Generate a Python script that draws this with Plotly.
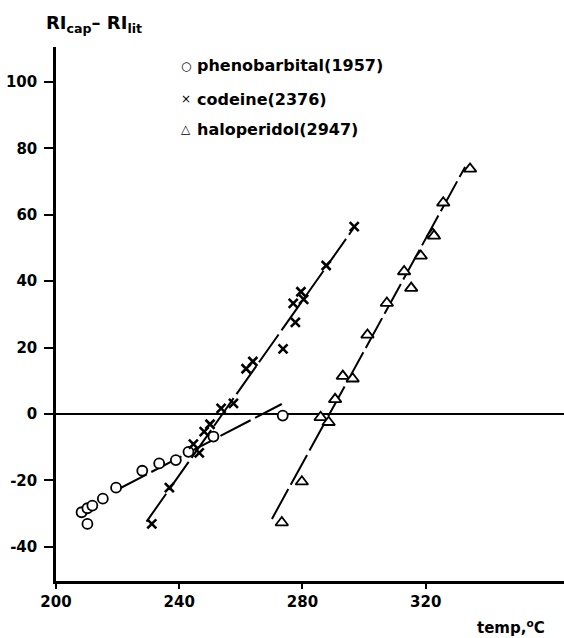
import plotly.graph_objects as go

# --- measured points: temperature (°C) vs RI_cap - RI_lit ---
pheno_temp = [208.3, 210.2, 211.8, 215.2, 219.5, 228.0, 233.5, 238.9, 243.0, 251.1, 210.2, 273.6]
pheno_dri = [-29.6, -28.4, -27.6, -25.5, -22.2, -17.1, -14.9, -13.9, -11.4, -6.8, -33.1, -0.5]

codeine_temp = [231.1, 236.8, 244.6, 246.5, 248.1, 250.0, 253.6, 257.6, 261.7, 263.9,
                273.7, 277.7, 277.0, 279.5, 280.4, 287.7, 296.8]
codeine_dri = [-33.1, -22.2, -9.1, -11.7, -5.3, -3.1, 1.7, 3.2, 13.6, 15.8,
               19.6, 27.6, 33.3, 36.8, 34.5, 44.7, 56.4]

halo_temp = [273.3, 279.8, 285.9, 288.5, 290.6, 293.1, 296.3, 301.1, 307.4, 315.3,
             313.0, 318.4, 322.3, 322.7, 325.7, 334.4]
halo_dri = [-32.7, -20.4, -1.0, -2.5, 4.4, 11.4, 10.6, 23.8, 33.4, 37.9,
            42.9, 47.6, 54.2, 53.6, 63.6, 73.8]

# --- hand-fitted trend lines (end points) ---
pheno_fit_temp = [219.7, 273.3]
pheno_fit_dri = [-22.9, 3.0]
codeine_fit_temp = [229.4, 297.1]
codeine_fit_dri = [-32.4, 56.6]
halo_fit_temp = [270.1, 332.8]
halo_fit_dri = [-31.6, 74.4]

legend_labels = ["phenobarbital(1957)", "codeine(2376)", "haloperidol(2947)"]
legend_glyphs = ["\u25CB", "\u00D7", "\u25B3"]

x_ticks = [200, 240, 280, 320]
y_ticks = [-40, -20, 0, 20, 40, 60, 80, 100]

FONT = "DejaVu Sans"
W, H = 564, 638
ML, MR, MT, MB = 56, 0, 47, 57
PW, PH = W - ML - MR, H - MT - MB


def px_x(px):
    return (px - ML) / PW


def px_y(py):
    return (H - MB - py) / PH


fig = go.Figure()

line_style = dict(color="black", width=2, dash="34px,5px")
for tx, ty in [(pheno_fit_temp, pheno_fit_dri),
               (codeine_fit_temp, codeine_fit_dri),
               (halo_fit_temp, halo_fit_dri)]:
    fig.add_trace(go.Scatter(x=tx, y=ty, mode="lines", line=line_style,
                             showlegend=False, hoverinfo="skip"))

fig.add_trace(go.Scatter(
    x=pheno_temp, y=pheno_dri, mode="markers", name=legend_labels[0],
    marker=dict(symbol="circle", size=10, color="white",
                line=dict(color="black", width=1.8))))
fig.add_trace(go.Scatter(
    x=codeine_temp, y=codeine_dri, mode="markers", name=legend_labels[1],
    marker=dict(symbol="x-thin", size=9, color="black",
                line=dict(color="black", width=2.6))))
fig.add_trace(go.Scatter(
    x=halo_temp, y=halo_dri, mode="markers", name=legend_labels[2],
    marker=dict(symbol="triangle-up", size=11, color="white",
                line=dict(color="black", width=1.8))))

annotations = []
# key entries
legend_rows = [66, 99, 129]
for glyph, label, row in zip(legend_glyphs, legend_labels, legend_rows):
    annotations.append(dict(text=glyph, x=px_x(186), y=px_y(row), xref="paper", yref="paper",
                            xanchor="center", yanchor="middle", showarrow=False,
                            font=dict(family=FONT, size=12, color="black")))
    annotations.append(dict(text="<b>" + label + "</b>", x=px_x(195), y=px_y(row),
                            xref="paper", yref="paper", xanchor="left", yanchor="middle",
                            showarrow=False, font=dict(family=FONT, size=16, color="black")))

# axis titles
annotations.append(dict(text="<b>RI<sub>cap</sub>\u2013 RI<sub>lit</sub></b>",
                        x=px_x(44), y=px_y(24), xref="paper", yref="paper",
                        xanchor="left", yanchor="middle", showarrow=False,
                        font=dict(family=FONT, size=18, color="black")))
annotations.append(dict(text="<b>temp,<sup>o</sup>C</b>",
                        x=px_x(547), y=px_y(627), xref="paper", yref="paper",
                        xanchor="right", yanchor="middle", showarrow=False,
                        font=dict(family=FONT, size=15, color="black")))

fig.update_layout(
    width=W, height=H,
    margin=dict(l=ML, r=MR, t=MT, b=MB, pad=0),
    paper_bgcolor="white", plot_bgcolor="white",
    showlegend=False,
    annotations=annotations,
    font=dict(family=FONT, color="black"),
)

fig.update_xaxes(
    range=[200, 364.9], tickvals=x_ticks, ticktext=["<b>%d</b>" % v for v in x_ticks],
    showgrid=False, zeroline=False, showline=True, linecolor="black", linewidth=2.5,
    ticks="outside", ticklen=5, tickwidth=2, tickcolor="black",
    tickfont=dict(family=FONT, size=15, color="black"),
)
fig.update_yaxes(
    range=[-50.3, 110.5], tickvals=y_ticks, ticktext=["<b>%d</b>" % v for v in y_ticks],
    showgrid=False, zeroline=True, zerolinecolor="black", zerolinewidth=2,
    showline=True, linecolor="black", linewidth=2.5,
    ticks="outside", ticklen=9, tickwidth=2, tickcolor="black",
    ticklabelstandoff=4,
    tickfont=dict(family=FONT, size=15, color="black"),
)

fig.write_html("out.html")
